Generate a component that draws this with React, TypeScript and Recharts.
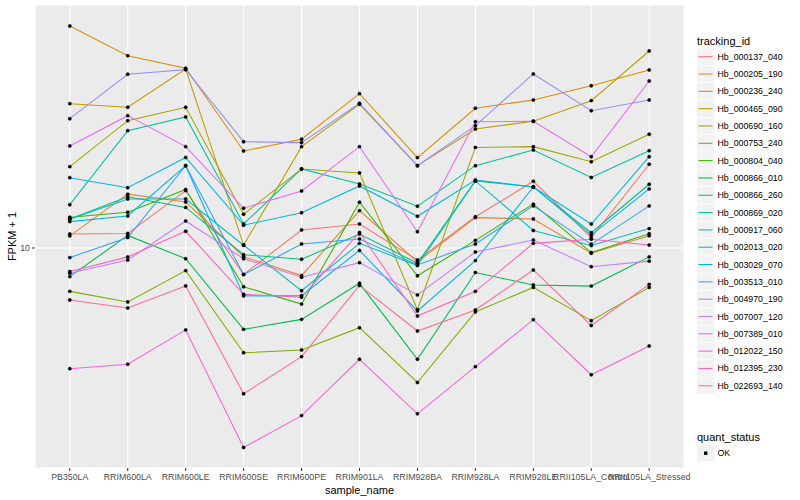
import React from 'react';
import { LineChart, Line, XAxis, YAxis, CartesianGrid } from 'recharts';

const samples = [
  'PB350LA', 'RRIM600LA', 'RRIM600LE', 'RRIM600SE', 'RRIM600PE', 'RRIM901LA',
  'RRIM928BA', 'RRIM928LA', 'RRIM928LE', 'RRII105LA_Control', 'RRII105LA_Stressed',
];

const trackingIds = [
  'Hb_000137_040', 'Hb_000205_190', 'Hb_000236_240', 'Hb_000465_090', 'Hb_000690_160',
  'Hb_000753_240', 'Hb_000804_040', 'Hb_000866_010', 'Hb_000866_260', 'Hb_000869_020',
  'Hb_000917_060', 'Hb_002013_020', 'Hb_003029_070', 'Hb_003513_010', 'Hb_004970_190',
  'Hb_007007_120', 'Hb_007389_010', 'Hb_012022_150', 'Hb_012395_230', 'Hb_022693_140',
];

const colors = [
  '#F8766D', '#EA8331', '#D89000', '#C09B00', '#A3A500', '#7CAE00', '#39B600', '#00BB4E',
  '#00BF7D', '#00C1A3', '#00BFC4', '#00BAE0', '#00B0F6', '#35A2FF', '#9590FF', '#C77CFF',
  '#E76BF3', '#FA62DB', '#FF62BC', '#FF6C91',
];

// FPKM + 1, one value per sample (same order as samples)
const hb_000137_040 = [10.84, 10.87, 13.91, 8.59, 11.09, 11.48, 9.33, 11.97, 14.68, 10.61, 16.19];
const hb_000205_190 = [10.72, 13.63, 13.03, 9.51, 8.53, 12.4, 9.23, 11.91, 11.82, 9.7, 10.73];
const hb_000236_240 = [35.89, 30.25, 28.13, 17.48, 18.7, 24.31, 16.82, 22.35, 23.44, 25.45, 27.86];
const hb_000465_090 = [22.95, 22.48, 28.02, 10.17, 17.92, 22.87, 16.06, 19.84, 20.74, 23.35, 31.08];
const hb_000690_160 = [15.97, 20.81, 22.48, 12.14, 15.76, 15.4, 7.01, 17.84, 17.92, 16.43, 19.24];
const hb_000753_240 = [7.79, 7.33, 8.78, 5.47, 5.56, 6.32, 4.61, 6.92, 7.97, 6.58, 7.97];
const hb_000804_040 = [11.93, 12.28, 14.0, 8.0, 7.24, 13.01, 8.52, 10.45, 12.87, 9.74, 10.86];
const hb_000866_010 = [8.48, 10.75, 9.4, 6.26, 6.63, 8.16, 5.27, 8.68, 8.08, 8.03, 9.5];
const hb_000866_260 = [11.82, 13.43, 12.63, 9.62, 9.37, 10.84, 9.16, 14.71, 14.21, 10.92, 14.43];
const hb_000869_020 = [12.83, 19.65, 21.26, 11.48, 15.76, 14.45, 12.72, 16.06, 17.58, 15.01, 17.51];
const hb_000917_060 = [11.8, 13.26, 13.26, 10.16, 7.82, 10.27, 9.04, 14.71, 11.06, 10.14, 11.18];
const hb_002013_020 = [14.99, 14.15, 16.84, 11.4, 12.25, 14.29, 12.0, 14.79, 14.21, 11.48, 16.91];
const hb_003029_070 = [11.64, 12.02, 16.06, 7.59, 7.6, 9.86, 6.96, 9.3, 14.21, 10.77, 14.05];
const hb_003513_010 = [9.46, 10.62, 16.06, 8.58, 10.23, 10.53, 9.07, 10.23, 12.74, 10.22, 12.74];
const hb_004970_190 = [21.05, 27.18, 27.91, 18.44, 18.34, 23.0, 16.06, 20.22, 27.23, 22.04, 23.44];
const hb_007007_120 = [8.65, 9.33, 11.68, 9.4, 8.45, 9.19, 7.63, 9.77, 10.47, 8.98, 9.27];
const hb_007389_010 = [17.99, 21.42, 17.92, 12.57, 13.88, 17.92, 10.98, 20.69, 20.74, 16.91, 26.15];
const hb_012022_150 = [4.99, 5.12, 6.24, 3.17, 3.81, 5.27, 3.85, 5.05, 6.62, 4.82, 5.69];
const hb_012395_230 = [8.73, 9.5, 11.01, 7.66, 7.53, 10.93, 6.76, 7.79, 10.27, 10.51, 10.17];
const hb_022693_140 = [7.41, 7.08, 8.04, 4.32, 5.35, 8.06, 6.2, 7.0, 8.81, 6.4, 8.11];

const seriesValues = [
  hb_000137_040, hb_000205_190, hb_000236_240, hb_000465_090, hb_000690_160,
  hb_000753_240, hb_000804_040, hb_000866_010, hb_000866_260, hb_000869_020,
  hb_000917_060, hb_002013_020, hb_003029_070, hb_003513_010, hb_004970_190,
  hb_007007_120, hb_007389_010, hb_012022_150, hb_012395_230, hb_022693_140,
];

const yTicks = [10];

const data = samples.map((s, i) => {
  const row: Record<string, string | number> = { sample_name: s };
  trackingIds.forEach((id, k) => {
    row[id] = seriesValues[k][i];
  });
  return row;
});

const font = '"Liberation Sans", Arial, Helvetica, sans-serif';

export default function App() {
  return (
    <div style={{ position: 'relative', width: 800, height: 500, fontFamily: font, background: '#fff' }}>
      <style>{'body{margin:0}'}</style>
      <LineChart
        width={800}
        height={500}
        data={data}
        margin={{ top: 5, right: 116, bottom: 0, left: 0 }}
      >
        <CartesianGrid fill="#EBEBEB" stroke="#FFFFFF" strokeWidth={1.1} />
        <XAxis
          dataKey="sample_name"
          interval={0}
          padding={{ left: 34.8, right: 34.8 }}
          height={32}
          axisLine={false}
          tickSize={3}
          tickMargin={3}
          tickLine={{ stroke: '#333333' }}
          tick={{ fontSize: 8.8, fill: '#4D4D4D' }}
        />
        <YAxis
          type="number"
          scale="log"
          domain={[2.818, 40.5]}
          allowDataOverflow
          ticks={yTicks}
          width={35}
          axisLine={false}
          tickSize={3}
          tickMargin={2}
          tickLine={{ stroke: '#333333' }}
          tick={{ fontSize: 8.8, fill: '#4D4D4D' }}
        />
        {trackingIds.map((id, k) => (
          <Line
            key={'line-' + id}
            type="linear"
            dataKey={id}
            stroke={colors[k]}
            strokeWidth={1.07}
            dot={false}
            activeDot={false}
            isAnimationActive={false}
          />
        ))}
        {trackingIds.map((id) => (
          <Line
            key={'pts-' + id}
            type="linear"
            dataKey={id}
            stroke="none"
            dot={{ r: 1.7, fill: '#000', stroke: '#000', strokeWidth: 0.3 }}
            activeDot={false}
            legendType="none"
            isAnimationActive={false}
          />
        ))}
      </LineChart>
      <svg
        width={800}
        height={500}
        style={{ position: 'absolute', left: 0, top: 0, pointerEvents: 'none', fontFamily: font }}
      >
        <text x={12} y={236.5} transform="rotate(-90 12 236.5)" textAnchor="middle" dominantBaseline="central" fontSize={11}>
          FPKM + 1
        </text>
        <text x={359.5} y={490} textAnchor="middle" dominantBaseline="central" fontSize={11}>
          sample_name
        </text>
        <text x={697} y={40.5} dominantBaseline="central" fontSize={11}>
          tracking_id
        </text>
        {trackingIds.map((id, k) => {
          const cy = 56.7 + k * 17.32;
          return (
            <g key={'leg-' + id}>
              <rect x={697} y={cy - 8.3} width={17.3} height={16.6} fill="#F2F2F2" />
              <line x1={698.5} x2={712.5} y1={cy} y2={cy} stroke={colors[k]} strokeWidth={1.07} />
              <text x={717.5} y={cy} dominantBaseline="central" fontSize={8.8}>
                {id}
              </text>
            </g>
          );
        })}
        <text x={697} y={437} dominantBaseline="central" fontSize={11}>
          quant_status
        </text>
        <rect x={697} y={444.7} width={17.3} height={16.6} fill="#F2F2F2" />
        <rect x={704} y={451.5} width={3.4} height={3.4} fill="#000" />
        <text x={717.5} y={453} dominantBaseline="central" fontSize={8.8}>
          OK
        </text>
      </svg>
    </div>
  );
}
